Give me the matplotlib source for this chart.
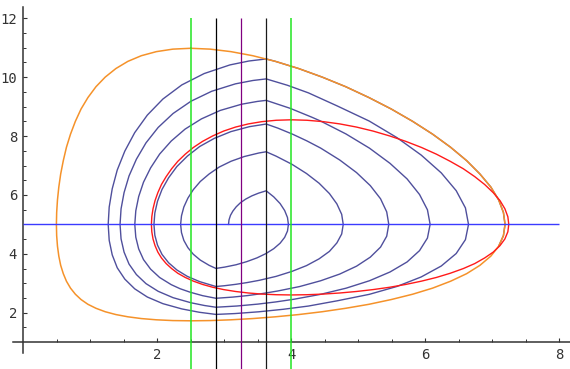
import matplotlib
matplotlib.use("Agg")
import matplotlib.pyplot as plt
from matplotlib.ticker import FixedLocator

# ---------------- data ----------------
orange_x = [2.5, 2.790, 3.099, 3.424, 3.762, 4.109, 4.460, 4.811, 5.157, 5.491, 5.811, 6.109,
            6.377, 6.617, 6.815, 6.978, 7.095, 7.166, 7.190, 7.166, 7.095, 6.978, 6.815, 6.617,
            6.377, 6.109, 5.811, 5.491, 5.157, 4.811, 4.460, 4.109, 3.762, 3.424, 3.099, 2.790,
            2.5, 2.232, 1.986, 1.762, 1.561, 1.382, 1.223, 1.085, 0.965, 0.862, 0.777, 0.7045,
            0.644, 0.597, 0.558, 0.530, 0.510, 0.498, 0.494, 0.498, 0.510, 0.530, 0.558, 0.597,
            0.644, 0.7045, 0.777, 0.862, 0.965, 1.085, 1.223, 1.382, 1.561, 1.762, 1.986, 2.232, 2.5]
orange_y = [10.982, 10.953, 10.868, 10.730, 10.538, 10.294, 10.004, 9.678, 9.310, 8.920, 8.500, 8.065,
            7.621, 7.166, 6.713, 6.269, 5.832, 5.405, 5.0, 4.617, 4.259, 3.922, 3.609, 3.326,
            3.069, 2.835, 2.628, 2.447, 2.285, 2.150, 2.033, 1.937, 1.861, 1.801, 1.759, 1.733,
            1.725, 1.733, 1.759, 1.801, 1.861, 1.937, 2.033, 2.150, 2.285, 2.447, 2.628, 2.835,
            3.069, 3.326, 3.609, 3.922, 4.259, 4.617, 5.0, 5.405, 5.832, 6.269, 6.713, 7.166,
            7.621, 8.065, 8.500, 8.920, 9.310, 9.678, 10.004, 10.294, 10.538, 10.730, 10.868, 10.953, 10.982]

red_x = [4.0, 4.234, 4.477, 4.724, 4.973, 5.222, 5.469, 5.710, 5.944, 6.166, 6.372, 6.567,
         6.738, 6.886, 7.014, 7.115, 7.188, 7.232, 7.246, 7.232, 7.188, 7.115, 7.014, 6.886,
         6.738, 6.567, 6.372, 6.166, 5.944, 5.710, 5.469, 5.222, 4.973, 4.724, 4.477, 4.234,
         4.0, 3.775, 3.561, 3.359, 3.168, 2.989, 2.826, 2.675, 2.538, 2.417, 2.306, 2.214,
         2.132, 2.062, 2.008, 1.966, 1.936, 1.918, 1.912, 1.918, 1.936, 1.966, 2.008, 2.062,
         2.132, 2.214, 2.306, 2.417, 2.538, 2.675, 2.826, 2.989, 3.168, 3.359, 3.561, 3.775, 4.0]
red_y = [8.553, 8.537, 8.490, 8.413, 8.306, 8.169, 8.004, 7.819, 7.612, 7.385, 7.142, 6.890,
         6.622, 6.355, 6.077, 5.807, 5.530, 5.261, 5.0, 4.748, 4.506, 4.280, 4.059, 3.860,
         3.669, 3.499, 3.340, 3.198, 3.073, 2.961, 2.865, 2.786, 2.721, 2.670, 2.633, 2.611,
         2.603, 2.611, 2.633, 2.670, 2.721, 2.786, 2.865, 2.961, 3.073, 3.198, 3.340, 3.499,
         3.669, 3.860, 4.059, 4.280, 4.506, 4.748, 5.0, 5.261, 5.530, 5.807, 6.077, 6.355,
         6.622, 6.890, 7.142, 7.385, 7.612, 7.819, 8.004, 8.169, 8.306, 8.413, 8.490, 8.537, 8.553]

spiral_x = [3.063, 3.070, 3.092, 3.128, 3.178, 3.241, 3.320, 3.411, 3.511, 3.625,
            3.738, 3.833, 3.901, 3.943, 3.957, 3.943, 3.901, 3.833, 3.738, 3.620, 3.487, 3.335,
            3.176, 3.007, 2.875,
            2.774, 2.642, 2.537, 2.456, 2.396, 2.361, 2.348, 2.361, 2.396, 2.456, 2.537, 2.642,
            2.774, 2.924, 3.102, 3.298, 3.517, 3.625,
            3.773, 4.010, 4.227, 4.415, 4.569, 4.680, 4.752, 4.775, 4.752, 4.680, 4.569, 4.415,
            4.227, 4.010, 3.773, 3.521, 3.346, 3.174, 3.000, 2.875,
            2.633, 2.449, 2.292, 2.168, 2.070, 2.003, 1.963, 1.950, 1.963, 2.003, 2.070, 2.168,
            2.292, 2.449, 2.633, 2.850, 3.098, 3.374, 3.625,
            3.796, 4.016, 4.231, 4.438, 4.723, 4.974, 5.179, 5.332, 5.424, 5.455, 5.424, 5.332,
            5.179, 4.974, 4.723, 4.438, 4.125, 3.796, 3.572, 3.347, 3.128, 2.875,
            2.676, 2.492, 2.340, 2.208, 2.035, 1.900, 1.794, 1.722, 1.679, 1.664, 1.679, 1.722,
            1.794, 1.900, 2.035, 2.208, 2.415, 2.658, 2.939, 3.258, 3.494, 3.625,
            3.981, 4.302, 4.435, 4.816, 5.167, 5.473, 5.728, 5.914, 6.032, 6.072, 6.032, 5.914,
            5.728, 5.473, 5.167, 4.816, 4.435, 4.036, 3.768, 3.500, 3.185, 2.875,
            2.703, 2.502, 2.236, 2.013, 1.831, 1.688, 1.578, 1.504, 1.459, 1.444, 1.459, 1.504,
            1.578, 1.688, 1.831, 2.013, 2.236, 2.502, 2.812, 3.166, 3.427, 3.625,
            3.943, 4.255, 4.684, 5.164, 5.577, 5.938, 6.238, 6.461, 6.599, 6.645, 6.599, 6.461,
            6.238, 5.938, 5.577, 5.164, 4.684, 4.255, 3.882, 3.514, 3.158, 2.875,
            2.627, 2.366, 2.084, 1.851, 1.663, 1.515, 1.402, 1.327, 1.282, 1.267, 1.282, 1.327,
            1.402, 1.515, 1.663, 1.851, 2.084, 2.366, 2.699, 3.084, 3.368, 3.625,
            3.762, 4.109, 4.460, 4.811, 5.157, 5.491, 5.811, 6.109, 6.377, 6.617, 6.815, 6.978,
            7.095, 7.166, 7.190, 7.166, 7.095]
spiral_y = [5.0, 5.151, 5.307, 5.452, 5.598, 5.736, 5.860, 5.969, 6.061, 6.141,
            5.935, 5.707, 5.470, 5.233, 5.0, 4.774, 4.560, 4.361, 4.175, 4.007, 3.862, 3.735,
            3.629, 3.550, 3.504,
            3.609, 3.787, 3.986, 4.212, 4.457, 4.720, 5.0, 5.291, 5.590, 5.889, 6.179, 6.458,
            6.713, 6.948, 7.146, 7.305, 7.426, 7.467,
            7.318, 7.041, 6.728, 6.398, 6.047, 5.697, 5.342, 5.0, 4.673, 4.370, 4.083, 3.830,
            3.600, 3.404, 3.234, 3.100, 3.026, 2.965, 2.916, 2.890,
            3.055, 3.233, 3.452, 3.698, 3.981, 4.296, 4.634, 5.0, 5.385, 5.786, 6.186, 6.581,
            6.965, 7.319, 7.646, 7.921, 8.151, 8.319, 8.409,
            8.273, 8.067, 7.838, 7.592, 7.187, 6.759, 6.317, 5.870, 5.425, 5.0, 4.598, 4.228,
            3.887, 3.581, 3.313, 3.085, 2.889, 2.737, 2.652, 2.582, 2.531, 2.490,
            2.579, 2.695, 2.815, 2.953, 3.196, 3.480, 3.804, 4.168, 4.566, 5.0, 5.461, 5.944,
            6.433, 6.919, 7.389, 7.832, 8.237, 8.583, 8.871, 9.082, 9.177, 9.213,
            8.944, 8.645, 8.513, 8.072, 7.589, 7.074, 6.545, 6.015, 5.495, 5.0, 4.536, 4.109,
            3.724, 3.383, 3.086, 2.832, 2.623, 2.456, 2.366, 2.292, 2.227, 2.186,
            2.245, 2.338, 2.510, 2.727, 2.988, 3.296, 3.652, 4.058, 4.508, 5.0, 5.527, 6.080,
            6.646, 7.214, 7.769, 8.293, 8.768, 9.183, 9.522, 9.774, 9.888, 9.942,
            9.725, 9.468, 9.025, 8.509, 7.947, 7.356, 6.750, 6.146, 5.559, 5.0, 4.482, 4.010,
            3.586, 3.214, 2.892, 2.624, 2.404, 2.226, 2.117, 2.031, 1.971, 1.942,
            2.015, 2.129, 2.307, 2.533, 2.811, 3.141, 3.526, 3.966, 4.459, 5.0, 5.588, 6.208,
            6.846, 7.489, 8.117, 8.712, 9.259, 9.738, 10.123, 10.417, 10.550, 10.620,
            10.538, 10.294, 10.004, 9.678, 9.310, 8.920, 8.500, 8.065, 7.621, 7.166, 6.713, 6.269,
            5.832, 5.405, 5.0, 4.617, 4.259]

vline_x = [2.5, 2.875, 3.25, 3.625, 4.0]
vline_span = [0.0, 12.0]
hline_y = 5.0
hline_span = [0.0, 8.0]

xticks = [2, 4, 6, 8]
yticks = [2, 4, 6, 8, 10, 12]
xminor = [0.5, 1, 1.5, 2.5, 3, 3.5, 4.5, 5, 5.5, 6.5, 7, 7.5]
yminor = [1.5, 2.5, 3, 3.5, 4.5, 5, 5.5, 6.5, 7, 7.5, 8.5, 9, 9.5, 10.5, 11, 11.5]

# ---------------- styles ----------------
vline_colors = ["#22e622", "#000000", "#800080", "#1a1a1a", "#22e622"]
vline_widths = [1.1, 0.9, 0.9, 0.9, 1.1]
axis_color = "#333333"

plt.rcParams["font.family"] = ["DejaVu Sans Mono"]

fig = plt.figure(figsize=(5.7, 3.69), dpi=100)
ax = fig.add_axes([0, 0, 1, 1])
ax.set_xlim(-0.3478, 8.1597)
ax.set_ylim(0.088, 12.622)

ax.plot(spiral_x, spiral_y, color="#4f4f9c", lw=1.0, zorder=2, solid_joinstyle="round")
ax.plot(orange_x, orange_y, color="#f5922a", lw=1.1, zorder=3, solid_joinstyle="round")
ax.plot(red_x, red_y, color="#ff1a1a", lw=1.0, zorder=4, solid_joinstyle="round")
ax.hlines(hline_y, hline_span[0], hline_span[1], color="#3b3bff", lw=1.0, zorder=5)
ax.vlines(vline_x, vline_span[0], vline_span[1], colors=vline_colors,
          linewidths=vline_widths, zorder=6)

for side in ("top", "right"):
    ax.spines[side].set_visible(False)
ax.spines["left"].set_position(("data", 0))
ax.spines["bottom"].set_position(("data", 1))
ax.spines["left"].set_bounds(0.64, 12.37)
ax.spines["bottom"].set_bounds(-0.15, 8.16)
for side in ("left", "bottom"):
    ax.spines[side].set_color(axis_color)
    ax.spines[side].set_linewidth(1.1)

ax.xaxis.set_major_locator(FixedLocator(xticks))
ax.yaxis.set_major_locator(FixedLocator(yticks))
ax.xaxis.set_minor_locator(FixedLocator(xminor))
ax.yaxis.set_minor_locator(FixedLocator(yminor))
ax.set_xticklabels([str(v) for v in xticks])
ax.set_yticklabels([str(v) for v in yticks])
ax.tick_params(which="major", direction="in", length=3.0, width=0.8, color=axis_color,
               labelsize=10, labelcolor="#333333", pad=4.5)
ax.tick_params(which="minor", direction="in", length=1.9, width=0.7, color=axis_color)

fig.savefig("out.png", dpi=100)
